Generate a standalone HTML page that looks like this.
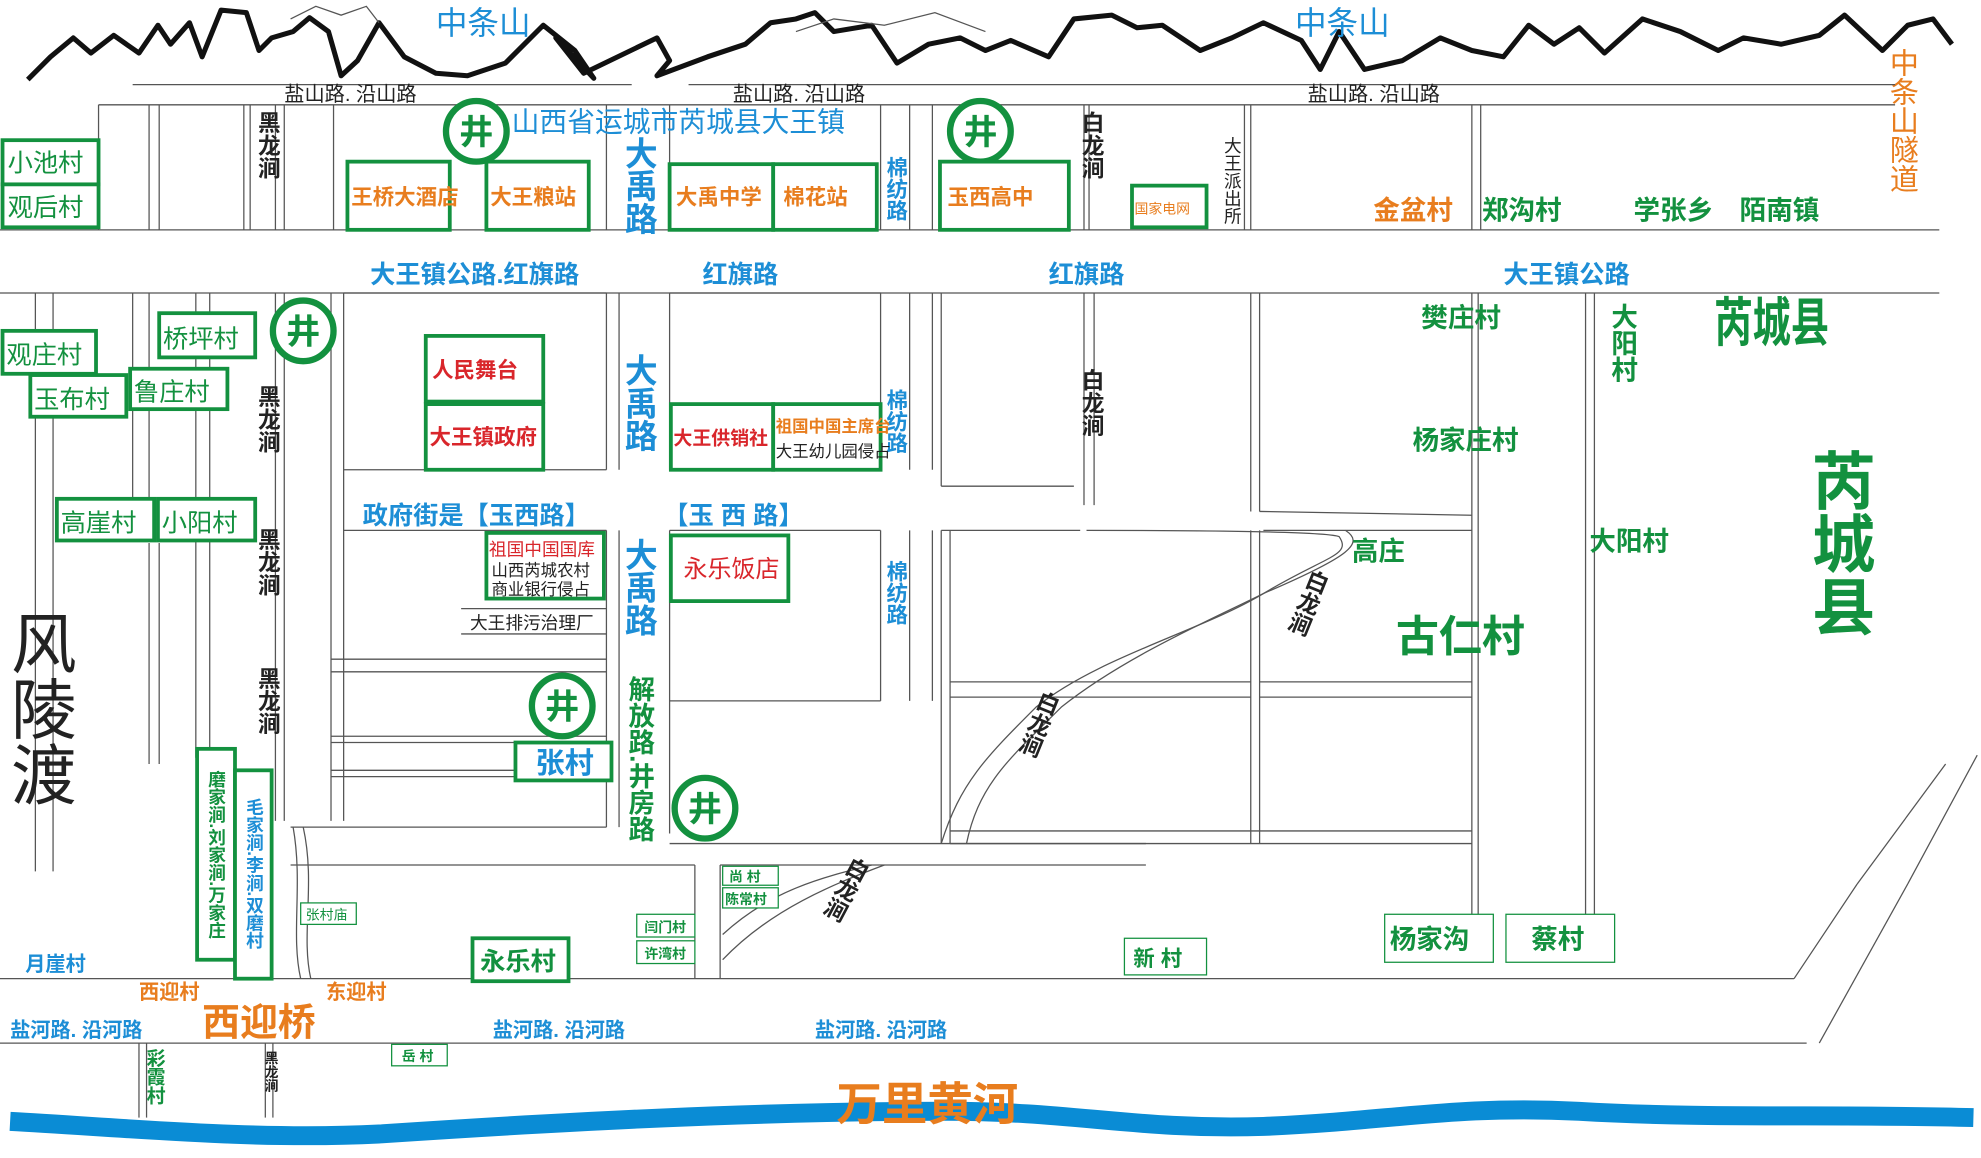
<!DOCTYPE html>
<html><head><meta charset="utf-8"><style>
html,body{margin:0;padding:0;background:#fff;}
svg{display:block;}
text{font-family:"Liberation Sans","Noto Sans CJK SC",sans-serif;}
.v{writing-mode:tb;}
.g{fill:#13913f;}.b{fill:#1d8ed6;}.o{fill:#e87d1e;}.r{fill:#d9262b;}.k{fill:#222;}
.bx{fill:#fff;stroke:#13913f;stroke-width:3;}
.tb{fill:#fff;stroke:#13913f;stroke-width:1;}
.ln{stroke:#555;stroke-width:1;fill:none;}
</style></head><body>
<svg width="1981" height="1158" viewBox="0 0 1568 917" preserveAspectRatio="none" xmlns="http://www.w3.org/2000/svg">
<rect width="1568" height="917" fill="#fff"/>
<path d="M22,63 L40,45 L58,30 L72,42 L90,28 L110,42 L125,20 L135,35 L150,18 L160,45 L175,8 L195,10 L205,40 L215,30 L232,25 L245,14 L260,25 L270,60 L283,48 L300,18 L320,45 L345,58 L370,60 L400,50 L430,20 L455,40 L470,62 L440,30 L462,58 L520,30 L530,48 L520,60 L560,45 L590,35 L610,18 L630,15 L645,10 L660,25 L690,20 L710,50 L735,35 L760,30 L780,40 L800,32 L830,45 L850,15 L880,12 L900,22 L920,20 L950,40 L975,30 L1000,18 L1030,32 L1045,55 L1060,25 L1080,55 L1110,48 L1140,30 L1165,40 L1190,45 L1210,20 L1230,35 L1250,22 L1270,42 L1300,15 L1330,25 L1360,40 L1380,30 L1410,35 L1440,28 L1460,12 L1490,40 L1510,20 L1530,15 L1545,35" stroke="#111" stroke-width="4" fill="none" stroke-linejoin="round"/>
<path d="M230,15 L250,5 L270,12 L290,5 L300,18" class="ln" stroke="#999"/>
<path d="M630,25 L660,15 L700,20 L740,10 L780,25" class="ln" stroke="#999"/>
<text x="345" y="27" font-size="25" class="b">中条山</text>
<text x="1025" y="27" font-size="25" class="b">中条山</text>
<text x="1505" y="38" font-size="23" class="o v">中条山隧道</text>
<g class="ln">
<line x1="105" y1="67" x2="500" y2="67"/><line x1="545" y1="67" x2="1500" y2="67"/>
<line x1="78" y1="83" x2="1500" y2="83"/>
<line x1="0" y1="182" x2="1535" y2="182"/><line x1="0" y1="232" x2="1535" y2="232"/>
<line x1="0" y1="775" x2="1420" y2="775"/><line x1="0" y1="826" x2="1430" y2="826"/>
<line x1="78" y1="83" x2="78" y2="182"/>
<line x1="118" y1="83" x2="118" y2="182"/><line x1="126" y1="83" x2="126" y2="182"/>
<line x1="193" y1="83" x2="193" y2="182"/><line x1="198" y1="83" x2="198" y2="182"/>
<line x1="218" y1="83" x2="218" y2="182"/><line x1="225" y1="83" x2="225" y2="182"/>
<line x1="264" y1="83" x2="264" y2="182"/>
<line x1="480" y1="83" x2="480" y2="182"/><line x1="530" y1="83" x2="530" y2="182"/>
<line x1="697" y1="83" x2="697" y2="182"/><line x1="720" y1="83" x2="720" y2="182"/><line x1="738" y1="83" x2="738" y2="182"/>
<line x1="858" y1="83" x2="858" y2="182"/><line x1="862" y1="83" x2="862" y2="182"/>
<line x1="985" y1="83" x2="985" y2="182"/><line x1="990" y1="83" x2="990" y2="182"/>
<line x1="1165" y1="83" x2="1165" y2="182"/><line x1="1172" y1="83" x2="1172" y2="182"/>
<line x1="28" y1="232" x2="28" y2="690"/><line x1="42" y1="232" x2="42" y2="690"/>
<line x1="105" y1="232" x2="105" y2="400"/><line x1="118" y1="232" x2="118" y2="400"/>
<line x1="118" y1="430" x2="118" y2="605"/><line x1="126" y1="430" x2="126" y2="605"/>
<line x1="155" y1="232" x2="155" y2="600"/><line x1="166" y1="232" x2="166" y2="600"/>
<line x1="218" y1="232" x2="218" y2="650"/><line x1="225" y1="232" x2="225" y2="650"/>
<line x1="262" y1="232" x2="262" y2="650"/><line x1="272" y1="232" x2="272" y2="650"/>
<line x1="272" y1="232" x2="480" y2="232"/>
<line x1="272" y1="372" x2="480" y2="372"/>
<line x1="480" y1="232" x2="480" y2="372"/><line x1="480" y1="420" x2="480" y2="655"/>
<line x1="272" y1="420" x2="480" y2="420"/>
<line x1="262" y1="522" x2="480" y2="522"/><line x1="262" y1="532" x2="480" y2="532"/>
<line x1="262" y1="583" x2="480" y2="583"/><line x1="262" y1="588" x2="480" y2="588"/>
<line x1="262" y1="610" x2="480" y2="610"/><line x1="262" y1="615" x2="480" y2="615"/>
<line x1="230" y1="655" x2="480" y2="655"/>
<line x1="365" y1="482" x2="480" y2="482"/><line x1="365" y1="502" x2="480" y2="502"/>
<line x1="490" y1="232" x2="490" y2="372"/><line x1="490" y1="420" x2="490" y2="655"/>
<line x1="530" y1="232" x2="530" y2="372"/><line x1="530" y1="420" x2="530" y2="660"/>
<line x1="530" y1="232" x2="697" y2="232"/><line x1="530" y1="372" x2="697" y2="372"/>
<line x1="697" y1="232" x2="697" y2="372"/><line x1="697" y1="420" x2="697" y2="555"/>
<line x1="530" y1="420" x2="697" y2="420"/><line x1="530" y1="555" x2="697" y2="555"/>
<line x1="720" y1="232" x2="720" y2="372"/><line x1="738" y1="232" x2="738" y2="372"/>
<line x1="720" y1="420" x2="720" y2="555"/><line x1="738" y1="420" x2="738" y2="555"/>
<line x1="745" y1="232" x2="745" y2="385"/><line x1="745" y1="420" x2="745" y2="668"/><line x1="752" y1="420" x2="752" y2="668"/>
<line x1="858" y1="232" x2="858" y2="400"/><line x1="866" y1="232" x2="866" y2="400"/>
<line x1="745" y1="385" x2="850" y2="385"/>
<line x1="745" y1="420" x2="855" y2="420"/>
<line x1="990" y1="232" x2="990" y2="405"/><line x1="997" y1="232" x2="997" y2="405"/>
<line x1="997" y1="405" x2="1165" y2="408"/>
<line x1="1165" y1="232" x2="1165" y2="730"/><line x1="1170" y1="232" x2="1170" y2="730"/>
<line x1="1255" y1="232" x2="1255" y2="730"/><line x1="1262" y1="232" x2="1262" y2="730"/>
<line x1="1000" y1="420" x2="1165" y2="420"/>
<line x1="990" y1="420" x2="990" y2="668"/><line x1="997" y1="420" x2="997" y2="668"/>
<line x1="752" y1="540" x2="990" y2="540"/><line x1="752" y1="552" x2="990" y2="552"/>
<line x1="997" y1="540" x2="1165" y2="540"/><line x1="997" y1="552" x2="1165" y2="552"/>
<line x1="752" y1="658" x2="1165" y2="658"/><line x1="752" y1="668" x2="1165" y2="668"/>
<line x1="230" y1="685" x2="550" y2="685"/><line x1="550" y1="685" x2="550" y2="775"/>
<line x1="530" y1="668" x2="907" y2="668"/><line x1="570" y1="685" x2="907" y2="685"/>
<line x1="570" y1="685" x2="570" y2="775"/>
<line x1="1565" y1="598" x2="1510" y2="700"/><line x1="1510" y1="700" x2="1440" y2="826"/>
<line x1="1540" y1="605" x2="1470" y2="700"/><line x1="1470" y1="700" x2="1420" y2="775"/>
<line x1="110" y1="826" x2="110" y2="885"/><line x1="116" y1="826" x2="116" y2="885"/>
<line x1="210" y1="826" x2="210" y2="885"/><line x1="216" y1="826" x2="216" y2="885"/>
<path d="M232,655 C240,700 230,740 238,775"/><path d="M240,655 C250,700 238,740 246,775"/>
<path d="M745,668 C760,620 780,600 820,560 C870,520 950,500 1000,470 C1050,440 1070,440 1060,425 C1050,420 900,420 860,420"/>
<path d="M765,668 C775,620 800,600 840,560 C890,520 960,490 1000,470 C1070,440 1080,430 1065,420"/>
<path d="M572,760 C610,720 660,700 700,685"/><path d="M572,740 C610,705 650,695 690,685"/>
</g>
<path d="M8,888 C100,893 200,903 300,898 C450,888 600,880 750,880 C850,880 900,895 1000,892 C1100,888 1150,875 1250,880 C1350,886 1450,882 1562,885" stroke="#0a8cd5" stroke-width="15" fill="none"/>
<g font-size="27" font-weight="bold" text-anchor="middle">
<circle cx="377" cy="104" r="24" fill="#fff" stroke="#13913f" stroke-width="5"/><text x="377" y="114" class="g">井</text>
<circle cx="776" cy="104" r="24" fill="#fff" stroke="#13913f" stroke-width="5"/><text x="776" y="114" class="g">井</text>
<circle cx="240" cy="262" r="24" fill="#fff" stroke="#13913f" stroke-width="5"/><text x="240" y="272" class="g">井</text>
<circle cx="445" cy="559" r="24" fill="#fff" stroke="#13913f" stroke-width="5"/><text x="445" y="569" class="g">井</text>
<circle cx="558" cy="640" r="24" fill="#fff" stroke="#13913f" stroke-width="5"/><text x="558" y="650" class="g">井</text>
</g>
<rect class="bx" x="2" y="111" width="76" height="35"/><rect class="bx" x="2" y="146" width="76" height="34"/>
<rect class="bx" x="275" y="128" width="81" height="54"/><rect class="bx" x="385" y="128" width="81" height="54"/>
<rect class="bx" x="530" y="130" width="82" height="52"/><rect class="bx" x="612" y="130" width="82" height="52"/>
<rect class="bx" x="744" y="128" width="102" height="54"/><rect class="bx" x="896" y="147" width="59" height="33"/>
<rect class="bx" x="2" y="262" width="74" height="34"/><rect class="bx" x="126" y="248" width="76" height="35"/>
<rect class="bx" x="24" y="297" width="76" height="33"/><rect class="bx" x="103" y="292" width="77" height="32"/>
<rect class="bx" x="337" y="266" width="93" height="52"/><rect class="bx" x="337" y="320" width="93" height="52"/>
<rect class="bx" x="531" y="320" width="81" height="52"/><rect class="bx" x="612" y="320" width="85" height="52"/>
<rect class="bx" x="45" y="395" width="77" height="33"/><rect class="bx" x="125" y="395" width="77" height="33"/>
<rect class="bx" x="385" y="422" width="93" height="52"/><rect class="bx" x="531" y="424" width="93" height="52"/>
<rect class="bx" x="408" y="588" width="76" height="30"/>
<rect class="bx" x="156" y="593" width="30" height="167"/><rect class="bx" x="186" y="610" width="29" height="165"/>
<rect class="bx" x="374" y="743" width="76" height="34"/>
<rect class="tb" x="238" y="715" width="44" height="17"/>
<rect class="tb" x="504" y="724" width="46" height="18"/><rect class="tb" x="504" y="745" width="46" height="18"/>
<rect class="tb" x="572" y="686" width="44" height="15"/><rect class="tb" x="572" y="703" width="44" height="16"/>
<rect class="tb" x="890" y="743" width="65" height="29"/>
<rect class="tb" x="1096" y="724" width="86" height="38"/><rect class="tb" x="1192" y="724" width="86" height="38"/>
<rect class="tb" x="310" y="827" width="44" height="17"/>
<g class="k" font-size="16">
<text x="225" y="80">盐山路. 沿山路</text><text x="580" y="80">盐山路. 沿山路</text><text x="1035" y="80">盐山路. 沿山路</text>
</g>
<text x="405" y="104" font-size="22" class="b">山西省运城市芮城县大王镇</text>
<g font-size="20" class="g"><text x="6" y="136">小池村</text><text x="6" y="171">观后村</text>
<text x="5" y="288">观庄村</text><text x="129" y="275">桥坪村</text><text x="27" y="323">玉布村</text><text x="106" y="317">鲁庄村</text>
<text x="48" y="421">高崖村</text><text x="128" y="421">小阳村</text></g>
<g font-size="17" class="o" font-weight="bold"><text x="278" y="162">王桥大酒店</text><text x="388" y="162">大王粮站</text>
<text x="535" y="162">大禹中学</text><text x="620" y="162">棉花站</text><text x="750" y="162">玉西高中</text></g>
<text x="898" y="169" font-size="11" class="o">国家电网</text>
<g font-size="18" font-weight="bold" class="k">
<text x="212" y="88" class="v">黑龙涧</text><text x="212" y="305" class="v">黑龙涧</text><text x="212" y="418" class="v">黑龙涧</text><text x="212" y="528" class="v">黑龙涧</text>
<text x="864" y="88" class="v">白龙涧</text><text x="864" y="292" class="v">白龙涧</text>
</g>
<text x="975" y="108" font-size="14" class="k v">大王派出所</text>
<g font-size="26" font-weight="bold" class="b"><text x="506" y="108" class="v">大禹路</text><text x="506" y="280" class="v">大禹路</text><text x="506" y="426" class="v">大禹路</text></g>
<text x="506" y="535" font-size="21" font-weight="bold" class="g v">解放路.井房路</text>
<g font-size="17" font-weight="bold" class="b"><text x="709" y="124" class="v">棉纺路</text><text x="709" y="308" class="v">棉纺路</text><text x="709" y="444" class="v">棉纺路</text></g>
<g font-size="20" font-weight="bold" class="b">
<text x="293" y="224">大王镇公路.红旗路</text><text x="556" y="224">红旗路</text><text x="830" y="224">红旗路</text><text x="1190" y="224">大王镇公路</text>
<text x="287" y="415">政府街是【玉西路】</text><text x="525" y="415">【玉 西 路】</text></g>
<g font-size="21" font-weight="bold"><text x="1087" y="174" class="o">金盆村</text><text x="1173" y="174" class="g">郑沟村</text>
<text x="1293" y="174" class="g">学张乡</text><text x="1377" y="174" class="g">陌南镇</text></g>
<text transform="translate(1357,270) scale(0.72,1)" x="0" y="0" font-size="42" font-weight="bold" class="g">芮城县</text>
<g font-size="21" class="g" font-weight="bold"><text x="1125" y="259">樊庄村</text><text x="1118" y="356">杨家庄村</text>
<text x="1070" y="444">高庄</text><text x="1258" y="436">大阳村</text><text x="1284" y="240" class="v">大阳村</text></g>
<text x="1105" y="516" font-size="34" font-weight="bold" class="g">古仁村</text>
<text x="1455" y="355" font-size="50" font-weight="bold" class="g v">芮城县</text>
<text x="30" y="483" font-size="52" class="k v">风陵渡</text>
<g font-size="17" font-weight="bold"><text x="342" y="299" class="r">人民舞台</text><text x="340" y="352" class="r">大王镇政府</text>
<text x="533" y="352" class="r" font-size="15">大王供销社</text></g>
<text x="614" y="342" font-size="13" class="o" font-weight="bold">祖国中国主席台</text>
<text x="614" y="362" font-size="13" class="k">大王幼儿园侵占</text>
<text x="387" y="440" font-size="14" class="r">祖国中国国库</text>
<text x="389" y="456" font-size="13" class="k">山西芮城农村</text><text x="389" y="471" font-size="13" class="k">商业银行侵占</text>
<text x="372" y="498" font-size="14" class="k">大王排污治理厂</text>
<text x="541" y="457" font-size="19" class="r">永乐饭店</text>
<text x="424" y="612" font-size="23" font-weight="bold" class="b">张村</text>
<text x="171" y="610" font-size="14" font-weight="bold" class="g v">磨家涧.刘家涧.万家庄</text>
<text x="201" y="632" font-size="14" font-weight="bold" class="b v">毛家涧.李涧.双磨村</text>
<text x="242" y="728" font-size="11" class="g">张村庙</text>
<text x="380" y="768" font-size="20" font-weight="bold" class="g">永乐村</text>
<g font-size="11" font-weight="bold" class="g"><text x="510" y="738">闫门村</text><text x="510" y="759">许湾村</text><text x="577" y="698">尚 村</text><text x="574" y="716">陈常村</text><text x="318" y="840">岳 村</text></g>
<text x="897" y="765" font-size="17" font-weight="bold" class="g">新 村</text>
<text x="1100" y="751" font-size="21" font-weight="bold" class="g">杨家沟</text><text x="1212" y="751" font-size="21" font-weight="bold" class="g">蔡村</text>
<text x="20" y="769" font-size="16" font-weight="bold" class="b">月崖村</text>
<text x="110" y="791" font-size="16" font-weight="bold" class="o">西迎村</text><text x="258" y="791" font-size="16" font-weight="bold" class="o">东迎村</text>
<text x="160" y="820" font-size="30" font-weight="bold" class="o">西迎桥</text>
<g font-size="16" font-weight="bold" class="b"><text x="8" y="821">盐河路. 沿河路</text><text x="390" y="821">盐河路. 沿河路</text><text x="645" y="821">盐河路. 沿河路</text></g>
<text x="122" y="830" font-size="15" font-weight="bold" class="g v">彩霞村</text>
<text x="215" y="832" font-size="11" font-weight="bold" class="k v">黑龙涧</text>
<text x="662" y="887" font-size="36" font-weight="bold" class="o">万里黄河</text>
<g font-size="18" font-weight="bold" class="k">
<text x="0" y="0" transform="translate(1045,452) rotate(22)" class="v">白龙涧</text>
<text x="0" y="0" transform="translate(832,548) rotate(22)" class="v">白龙涧</text>
<text x="0" y="0" transform="translate(682,680) rotate(28)" class="v">白龙涧</text>
</g>
</svg>
</body></html>
